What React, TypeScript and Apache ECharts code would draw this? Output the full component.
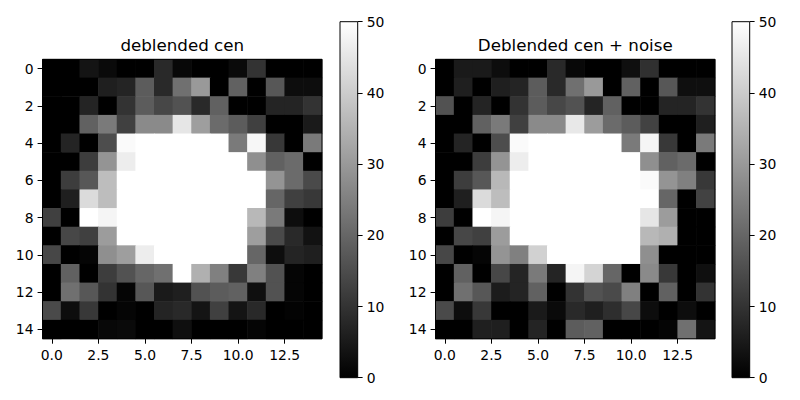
import { useEffect, useRef } from "react";
import * as echarts from "echarts";

// pixel values, one row per image row (top to bottom)
const cenRows = [
  [0, 0, 4, 2, 0, 0, 8, 1.5, 0, 0, 2, 10, 0, 0, 0],
  [0, 0, 0, 6, 7, 18, 8, 22, 30, 0, 19, 0, 17, 2.5, 2.5],
  [0, 0, 7, 0, 10, 18, 14, 16, 8, 19, 0, 0, 7, 7, 10],
  [0, 0, 19, 24, 12.5, 27, 27, 45, 31, 21, 18, 12.5, 0, 0, 5],
  [0, 7, 0, 15, 49, 50, 50, 50, 50, 50, 24, 48.5, 11, 0, 24],
  [0, 0, 12, 29, 46.5, 50, 50, 50, 50, 50, 50, 28, 19, 21, 0],
  [0, 12, 17, 37, 50, 50, 50, 50, 50, 50, 50, 50, 29, 21, 14.5],
  [0, 6, 43, 37, 50, 50, 50, 50, 50, 50, 50, 50, 20, 12.5, 11],
  [12.5, 0, 50, 48, 50, 50, 50, 50, 50, 50, 50, 36, 24, 2.5, 0],
  [0, 14, 12.5, 30.5, 50, 50, 50, 50, 50, 50, 50, 31, 14.5, 8, 3.5],
  [14, 0, 1, 28, 31, 46.5, 50, 50, 50, 50, 50, 20, 2.5, 7, 6],
  [0, 19, 0, 12, 16, 20, 22, 50, 34.5, 25, 11, 25, 16, 1, 0],
  [0, 22, 17, 10, 1, 17, 5, 6, 16, 18, 19, 3, 16, 1, 0],
  [14.5, 2.5, 11, 0, 1, 0, 7, 8, 4, 12.5, 4, 8, 0, 0.5, 0],
  [0, 0, 0, 1.5, 2, 0, 0, 3, 0, 0, 0, 1, 0, 0, 0],
];

const noisyRows = [
  [0, 5, 5, 2.5, 0, 0, 8, 1.5, 0, 0, 3, 9.5, 0, 0, 0],
  [0, 6, 0, 6, 7, 18, 8, 22, 30, 0, 19, 0, 17, 3, 3],
  [16, 0, 7, 0, 10, 18, 14, 16, 7, 19, 0, 0, 7, 7, 10],
  [0, 0, 19, 24, 12.5, 27, 27, 45.5, 30.5, 21, 18, 13, 0, 0, 6],
  [0, 7, 0, 15, 49, 50, 50, 50, 50, 50, 24, 48, 11, 0, 24],
  [0, 0, 12, 29, 46.5, 50, 50, 50, 50, 50, 50, 28, 19, 21, 0],
  [0, 12, 17, 36, 50, 50, 50, 50, 50, 50, 50, 49, 29, 25, 11],
  [0, 6, 43, 37, 50, 50, 50, 50, 50, 50, 50, 50, 20, 0, 13],
  [12, 0, 50, 48, 50, 50, 50, 50, 50, 50, 50, 45, 30.5, 0, 0],
  [0, 14, 12.5, 30.5, 50, 50, 50, 50, 50, 50, 50, 36, 34.5, 0, 0],
  [14, 0, 1, 29, 25, 41, 50, 50, 50, 50, 50, 28, 0, 0, 0],
  [0, 19, 0, 14, 7, 24, 7, 48, 41.5, 20, 0, 27, 11, 0, 3],
  [0, 22, 17, 5.5, 7, 19, 0, 10, 16, 14.5, 25, 0, 19, 0, 10],
  [14.5, 2.5, 11, 0, 0, 5, 2, 8, 6, 9, 14, 2.5, 0, 2.5, 0],
  [0, 0, 6, 6, 0, 7, 0, 18, 19, 0, 0, 0, 1, 22, 4],
];

const titles = ["deblended cen", "Deblended cen + noise"];
const xTicks = [0, 2.5, 5, 7.5, 10, 12.5];
const yTicks = [0, 2, 4, 6, 8, 10, 12, 14];
const colorRange = [0, 50];

const FONT = "DejaVu Sans";

function toCells(rows: number[][]) {
  const out: number[][] = [];
  rows.forEach((row, y) => row.forEach((v, x) => out.push([x, y, v])));
  return out;
}

// one image pixel; grown a hair so neighbours overlap and no seams show
function renderCell(_params: any, api: any) {
  const x = api.value(0);
  const y = api.value(1);
  const p0 = api.coord([x - 0.5, y - 0.5]);
  const p1 = api.coord([x + 0.5, y + 0.5]);
  const pad = 0.3;
  return {
    type: "rect",
    shape: {
      x: Math.min(p0[0], p1[0]) - pad,
      y: Math.min(p0[1], p1[1]) - pad,
      width: Math.abs(p1[0] - p0[0]) + 2 * pad,
      height: Math.abs(p1[1] - p0[1]) + 2 * pad,
    },
    style: { fill: api.visual("color") },
  };
}

function renderColorbar(_params: any, api: any) {
  const p0 = api.coord([0, api.value(0)]);
  const p1 = api.coord([1, api.value(1)]);
  return {
    type: "rect",
    shape: { x: p0[0], y: p1[1], width: p1[0] - p0[0], height: p0[1] - p1[1] },
    style: {
      fill: {
        type: "linear",
        x: 0,
        y: 1,
        x2: 0,
        y2: 0,
        colorStops: [
          { offset: 0, color: "#000000" },
          { offset: 1, color: "#ffffff" },
        ],
      },
    },
  };
}

function App() {
  const chartRef = useRef(null);

  useEffect(() => {
    const chart = echarts.init(chartRef.current, null, { renderer: "svg" });

    const imgLefts = [42.5, 435.5];
    const barLefts = [340, 732];
    const imgTop = 59.3;
    const imgSize = 279.5;

    const tickLabel = { color: "#000", fontFamily: FONT, fontSize: 13.9, margin: 9 };
    const tick = { show: true, inside: false, length: 4.9, lineStyle: { color: "#000", width: 1 } };
    const noLine = { show: false, onZero: false };
    const frame = {
      show: true,
      z: 10,
      borderColor: "#000",
      borderWidth: 1,
      backgroundColor: "transparent",
    };

    const grid: any[] = [];
    const xAxis: any[] = [];
    const yAxis: any[] = [];
    const series: any[] = [];

    imgLefts.forEach((left, i) => {
      grid.push({ left, top: imgTop, width: imgSize, height: imgSize, ...frame });
      xAxis.push({
        type: "value",
        gridIndex: i,
        position: "bottom",
        min: -0.5,
        max: 14.5,
        z: 11,
        axisLine: noLine,
        axisTick: { ...tick, customValues: xTicks },
        axisLabel: { ...tickLabel, customValues: xTicks, formatter: (v: number) => v.toFixed(1) },
        splitLine: { show: false },
      });
      yAxis.push({
        type: "value",
        gridIndex: i,
        position: "left",
        inverse: true,
        min: -0.5,
        max: 14.5,
        z: 11,
        axisLine: noLine,
        axisTick: { ...tick, customValues: yTicks },
        axisLabel: { ...tickLabel, customValues: yTicks, formatter: (v: number) => String(v) },
        splitLine: { show: false },
      });
      series.push({
        type: "custom",
        name: titles[i],
        xAxisIndex: i,
        yAxisIndex: i,
        renderItem: renderCell,
        encode: { x: 0, y: 1 },
        data: toCells(i === 0 ? cenRows : noisyRows),
      });
    });

    barLefts.forEach((left, i) => {
      const gi = 2 + i;
      grid.push({ left, top: 21.7, width: 17.7, height: 356, ...frame });
      xAxis.push({ type: "value", gridIndex: gi, min: 0, max: 1, show: false });
      yAxis.push({
        type: "value",
        gridIndex: gi,
        position: "right",
        min: colorRange[0],
        max: colorRange[1],
        interval: 10,
        z: 11,
        axisLine: noLine,
        axisTick: tick,
        axisLabel: tickLabel,
        splitLine: { show: false },
      });
      series.push({
        type: "custom",
        xAxisIndex: gi,
        yAxisIndex: gi,
        renderItem: renderColorbar,
        encode: { x: 0, y: 1 },
        data: [[colorRange[0], colorRange[1]]],
      });
    });

    chart.setOption({
      animation: false,
      backgroundColor: "#ffffff",
      textStyle: { fontFamily: FONT },
      grid,
      xAxis,
      yAxis,
      series,
      visualMap: {
        type: "continuous",
        show: false,
        seriesIndex: [0, 1],
        dimension: 2,
        min: colorRange[0],
        max: colorRange[1],
        inRange: { color: ["#000000", "#ffffff"] },
      },
      graphic: titles.map((text, i) => ({
        type: "text",
        x: imgLefts[i] + imgSize / 2,
        y: 45,
        style: {
          text,
          fill: "#000",
          fontFamily: FONT,
          fontSize: 16.7,
          textAlign: "center",
          textVerticalAlign: "middle",
        },
      })),
    });

    return () => {
      chart.dispose();
    };
  }, []);

  return (
    <div
      ref={chartRef}
      style={{ position: "fixed", left: 0, top: 0, width: 800, height: 400 }}
    />
  );
}

export default App;
